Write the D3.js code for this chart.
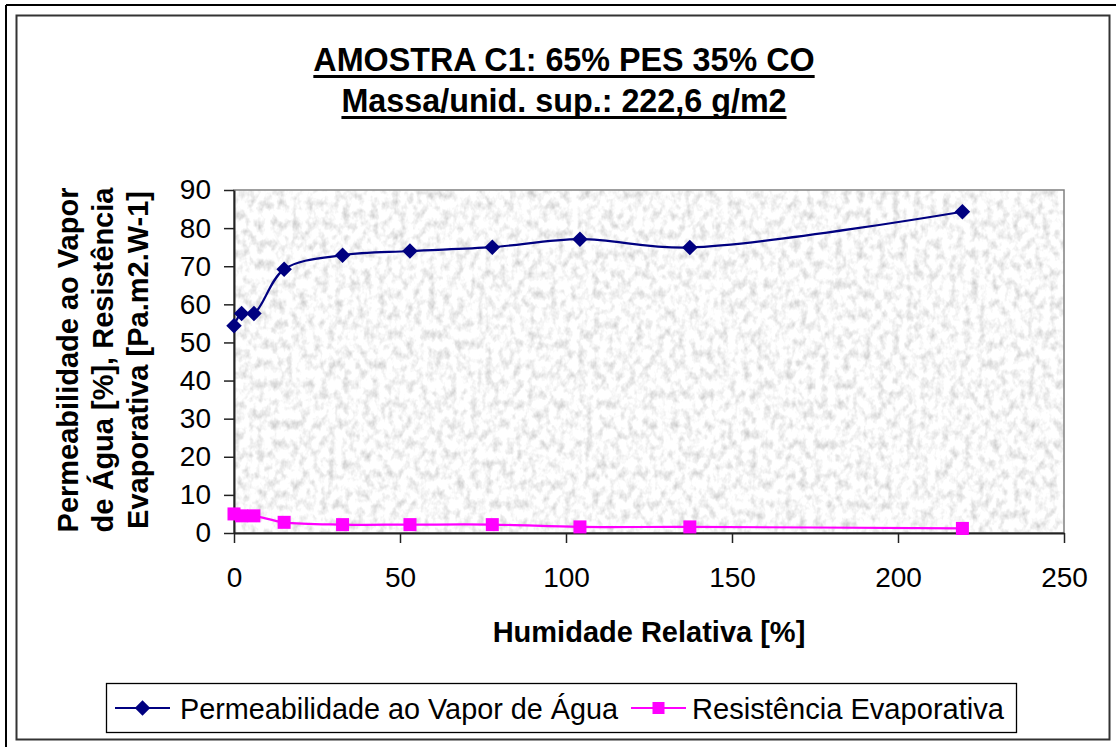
<!DOCTYPE html>
<html>
<head>
<meta charset="utf-8">
<script src="https://cdn.jsdelivr.net/npm/d3@7/dist/d3.min.js"></script>
<style>
  html, body { margin: 0; padding: 0; background: #fff; }
  svg { display: block; }
  text { font-family: "Liberation Sans", Arial, sans-serif; fill: #000; }
</style>
</head>
<body>
<svg id="chart" width="1119" height="747"></svg>
<script>
// Humidade relativa (%) measured at each step
const humidity = [0, 2.3, 6.0, 15.1, 32.7, 53.0, 77.8, 104.2, 137.3, 219.4];
// Permeabilidade ao vapor de água (%)
const permeability = [54.4, 57.6, 57.6, 69.2, 72.9, 74.0, 75.0, 77.1, 74.9, 84.3];
// Resistência evaporativa (Pa.m2.W-1)
const resistance = [5.0, 4.5, 4.5, 2.8, 2.2, 2.2, 2.2, 1.6, 1.6, 1.2];

const xTicks = [0, 50, 100, 150, 200, 250];
const yTicks = [0, 10, 20, 30, 40, 50, 60, 70, 80, 90];

const titleLines = ["AMOSTRA C1: 65% PES 35% CO", "Massa/unid. sup.: 222,6 g/m2"];
const xTitle = "Humidade Relativa [%]";
const yTitleLines = ["Permeabilidade ao Vapor", "de Água [%], Resistência", "Evaporativa [Pa.m2.W-1]"];
const seriesNames = ["Permeabilidade ao Vapor de Água", "Resistência Evaporativa"];
const seriesColors = ["#000080", "#ff00ff"];

const svg = d3.select("#chart");

// Granite-like texture for the plot area
const defs = svg.append("defs");
const grain = defs.append("filter").attr("id", "grain")
  .attr("x", 0).attr("y", 0).attr("width", 1).attr("height", 1);
grain.append("feTurbulence").attr("type", "fractalNoise")
  .attr("baseFrequency", "0.14 0.1").attr("numOctaves", 3).attr("seed", 11).attr("result", "n");
grain.append("feColorMatrix").attr("in", "n").attr("type", "matrix")
  .attr("values", "0.8 0 0 0 0.54  0.8 0 0 0 0.54  0.8 0 0 0 0.54  0 0 0 0 1");

// Outer frames
svg.append("line").attr("x1", 6).attr("y1", 5).attr("x2", 1116).attr("y2", 5)
  .attr("stroke", "#000").attr("stroke-width", 2);
svg.append("line").attr("x1", 6).attr("y1", 5).attr("x2", 6).attr("y2", 747)
  .attr("stroke", "#000").attr("stroke-width", 2);
svg.append("rect").attr("x", 16.5).attr("y", 15.5).attr("width", 1093).attr("height", 724)
  .attr("fill", "#fff").attr("stroke", "#333").attr("stroke-width", 2);

const plot = { left: 234, right: 1064, top: 190, bottom: 533 };

const x = d3.scaleLinear().domain([0, 250]).range([plot.left, plot.right]);
const y = d3.scaleLinear().domain([0, 90]).range([plot.bottom, plot.top]);

// Plot area
svg.append("rect")
  .attr("x", plot.left).attr("y", plot.top)
  .attr("width", plot.right - plot.left).attr("height", plot.bottom - plot.top)
  .attr("filter", "url(#grain)");
svg.append("rect")
  .attr("x", plot.left).attr("y", plot.top)
  .attr("width", plot.right - plot.left).attr("height", plot.bottom - plot.top)
  .attr("fill", "none").attr("stroke", "#808080").attr("stroke-width", 1.5);

// Axes
const xAxis = svg.append("g")
  .attr("transform", `translate(0,${plot.bottom})`)
  .call(d3.axisBottom(x).tickValues(xTicks).tickSize(10).tickPadding(24).tickSizeOuter(0));
const yAxis = svg.append("g")
  .attr("transform", `translate(${plot.left},0)`)
  .call(d3.axisLeft(y).tickValues(yTicks).tickSize(10).tickPadding(13).tickSizeOuter(0));

[xAxis, yAxis].forEach(a => {
  a.select(".domain").attr("stroke", "#222").attr("stroke-width", 2);
  a.selectAll(".tick line").attr("stroke", "#222").attr("stroke-width", 1.5);
  a.selectAll(".tick text").attr("font-size", 28)
    .attr("font-family", "'Liberation Sans', Arial, sans-serif").attr("fill", "#000");
});

// Series
const line = d3.line()
  .x(d => x(d[0])).y(d => y(d[1]))
  .curve(d3.curveCatmullRom.alpha(0.5));

const permData = humidity.map((h, i) => [h, permeability[i]]);
const resData = humidity.map((h, i) => [h, resistance[i]]);

svg.append("path").datum(resData).attr("d", line)
  .attr("fill", "none").attr("stroke", seriesColors[1]).attr("stroke-width", 2.2);
svg.append("path").datum(permData).attr("d", line)
  .attr("fill", "none").attr("stroke", seriesColors[0]).attr("stroke-width", 2.2);

const diamond = d3.symbol().type(d3.symbolSquare).size(121);
svg.append("g").selectAll("path").data(permData).join("path")
  .attr("d", diamond)
  .attr("transform", d => `translate(${x(d[0])},${y(d[1])}) rotate(45)`)
  .attr("fill", seriesColors[0]);

svg.append("g").selectAll("rect").data(resData).join("rect")
  .attr("x", d => x(d[0]) - 6.5).attr("y", d => y(d[1]) - 6.5)
  .attr("width", 13).attr("height", 13)
  .attr("fill", seriesColors[1]);

// Title with thick underline
const titleG = svg.append("g");
titleLines.forEach((t, i) => {
  const baseY = 71 + i * 41;
  const tx = titleG.append("text")
    .attr("x", 564).attr("y", baseY)
    .attr("text-anchor", "middle")
    .attr("font-size", 32.3).attr("font-weight", "bold")
    .text(t);
  const bb = tx.node().getBBox();
  titleG.append("rect")
    .attr("x", bb.x).attr("y", baseY + 4)
    .attr("width", bb.width).attr("height", 3)
    .attr("fill", "#000");
});

// Axis titles
svg.append("text")
  .attr("x", 649).attr("y", 642)
  .attr("text-anchor", "middle")
  .attr("font-size", 29).attr("font-weight", "bold")
  .text(xTitle);

const yTitle = svg.append("text")
  .attr("transform", "translate(78,360) rotate(-90)")
  .attr("text-anchor", "middle")
  .attr("font-size", 29).attr("font-weight", "bold");
yTitleLines.forEach((t, i) => {
  yTitle.append("tspan").attr("x", 0).attr("y", i * 35).text(t);
});

// Legend
const legend = svg.append("g");
legend.append("rect")
  .attr("x", 106.5).attr("y", 683.5).attr("width", 910).attr("height", 49)
  .attr("fill", "#fff").attr("stroke", "#000").attr("stroke-width", 1.3);

const legendItems = [
  { name: seriesNames[0], color: seriesColors[0], x0: 115, tx: 180, w: 438, shape: "diamond" },
  { name: seriesNames[1], color: seriesColors[1], x0: 631, tx: 692, w: 312, shape: "square" }
];
legendItems.forEach(it => {
  legend.append("line")
    .attr("x1", it.x0).attr("x2", it.x0 + 55).attr("y1", 708).attr("y2", 708)
    .attr("stroke", it.color).attr("stroke-width", 2.2);
  if (it.shape === "diamond") {
    legend.append("path").attr("d", diamond)
      .attr("transform", `translate(${it.x0 + 27.5},708) rotate(45)`)
      .attr("fill", it.color);
  } else {
    legend.append("rect").attr("x", it.x0 + 21.5).attr("y", 702)
      .attr("width", 12).attr("height", 12).attr("fill", it.color);
  }
  legend.append("text")
    .attr("x", it.tx).attr("y", 719)
    .attr("font-size", 30)
    .attr("textLength", it.w).attr("lengthAdjust", "spacingAndGlyphs")
    .text(it.name);
});
</script>
</body>
</html>
